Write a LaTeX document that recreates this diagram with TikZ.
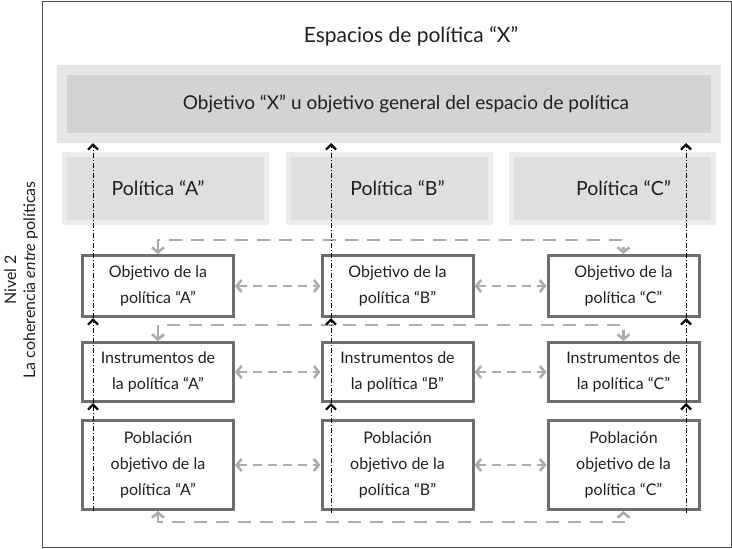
\documentclass[tikz,border=0pt]{standalone}
\usepackage{fontspec}
\setmainfont{Lato}
\usetikzlibrary{arrows.meta}
\definecolor{frame_gray}{RGB}{80,80,80}
\definecolor{box_gray}{RGB}{110,110,110}
\definecolor{band_out}{RGB}{230,231,232}
\definecolor{band_in}{RGB}{210,211,213}
\definecolor{pol_out}{RGB}{236,237,238}
\definecolor{pol_in}{RGB}{222,223,224}
\definecolor{link_gray}{RGB}{172,172,172}
\definecolor{text_dark}{RGB}{35,31,32}

\begin{document}
\begin{tikzpicture}[
    x=1pt, y=-1pt,
    band/.style={draw=band_out, line width=10pt, fill=band_in,
                 minimum width=654pt, minimum height=68pt},
    polbox/.style={draw=pol_out, line width=5pt, fill=pol_in,
                   minimum width=202pt, minimum height=68pt},
    item/.style={draw=box_gray, line width=3pt, fill=white,
                 minimum width=151pt, align=center,
                 font=\fontsize{16}{26}\selectfont},
    link/.style={draw=link_gray, line width=2.6pt,
                 dash pattern=on 9pt off 6pt,
                 arrows={Straight Barb[length=5pt,width=12pt]-Straight Barb[length=5pt,width=12pt]}},
    bracket/.style={link, dash pattern=on 13pt off 9pt},
    rise/.style={black, line width=0.6pt,
                 dash pattern=on 5pt off 2pt on 1pt off 2pt,
                 arrows={-Straight Barb[length=5pt,width=10pt,line width=2.2pt]}},
    text=text_dark]
    \useasboundingbox (0,0) rectangle (732,549);
    \draw[frame_gray, line width=1pt] (42,1) rectangle (731,547);

    \node[font=\fontsize{21}{25}\selectfont] (title) at (411,36)
      {Espacios de política “X”};
    \node[band] (gen) at (389,104) {};
    \node[font=\fontsize{19}{23}\selectfont] (gentext) at (406,104)
      {Objetivo “X” u objetivo general del espacio de política};

    % the three policy columns
    \node[item, minimum height=61pt] (objA) at (158,286)
      {Objetivo de la\\política “A”};
    \node[item, minimum height=61pt] (objB) at (397.5,286)
      {Objetivo de la\\política “B”};
    \node[item, minimum height=61pt] (objC) at (623.5,286)
      {Objetivo de la\\política “C”};
    \node[item, minimum height=59pt] (insA) at (158,372)
      {Instrumentos de\\la política “A”};
    \node[item, minimum height=59pt] (insB) at (397.5,372)
      {Instrumentos de\\la política “B”};
    \node[item, minimum height=59pt] (insC) at (623.5,372)
      {Instrumentos de\\la política “C”};
    \node[item, minimum height=89pt] (pobA) at (158,465)
      {Población\\objetivo de la\\política “A”};
    \node[item, minimum height=89pt] (pobB) at (397.5,465)
      {Población\\objetivo de la\\política “B”};
    \node[item, minimum height=89pt] (pobC) at (623.5,465)
      {Población\\objetivo de la\\política “C”};

    \node[polbox] (polA) at (165.5,188.5) {};
    \node[polbox] (polB) at (389.5,188.5) {};
    \node[polbox] (polC) at (612.5,188.5) {};
    \node[font=\fontsize{19.5}{23}\selectfont] (polAtext) at (objA |- polA)
      {Política “A”};
    \node[font=\fontsize{19.5}{23}\selectfont] (polBtext) at (objB |- polA)
      {Política “B”};
    \node[font=\fontsize{19.5}{23}\selectfont] (polCtext) at (objC |- polA)
      {Política “C”};

    \node[rotate=90, align=center, font=\fontsize{16}{19}\selectfont]
      (level) at (21,280) {Nivel 2\\La coherencia \emph{entre} políticas};

    % links inside each level
    \draw[link] (objA) -- (objB);
    \draw[link] (objB) -- (objC);
    \draw[link] (insA) -- (insB);
    \draw[link] (insB) -- (insC);
    \draw[link] (pobA) -- (pobB);
    \draw[link] (pobB) -- (pobC);
    \draw[bracket] (objA.north) -- ++(0,-14) -| (objC.north);
    \draw[bracket] (insA.north) -- ++(0,-16) -| (insC.north);
    \draw[bracket] (pobA.south) -- ++(0,11) -| (pobC.south);

    % rising lines up to the general objective
    \coordinate (riseA) at (93,511);
    \coordinate (riseB) at (331,513);
    \coordinate (riseC) at (686,513);
    \foreach \c in {A,B,C} {
      \draw[rise] (rise\c) -- (rise\c |- ins\c.south);
      \draw[rise] (rise\c |- ins\c.south) -- (rise\c |- obj\c.south);
      \draw[rise] (rise\c |- obj\c.south) -- (rise\c |- gen.south);
    }
\end{tikzpicture}
\end{document}
